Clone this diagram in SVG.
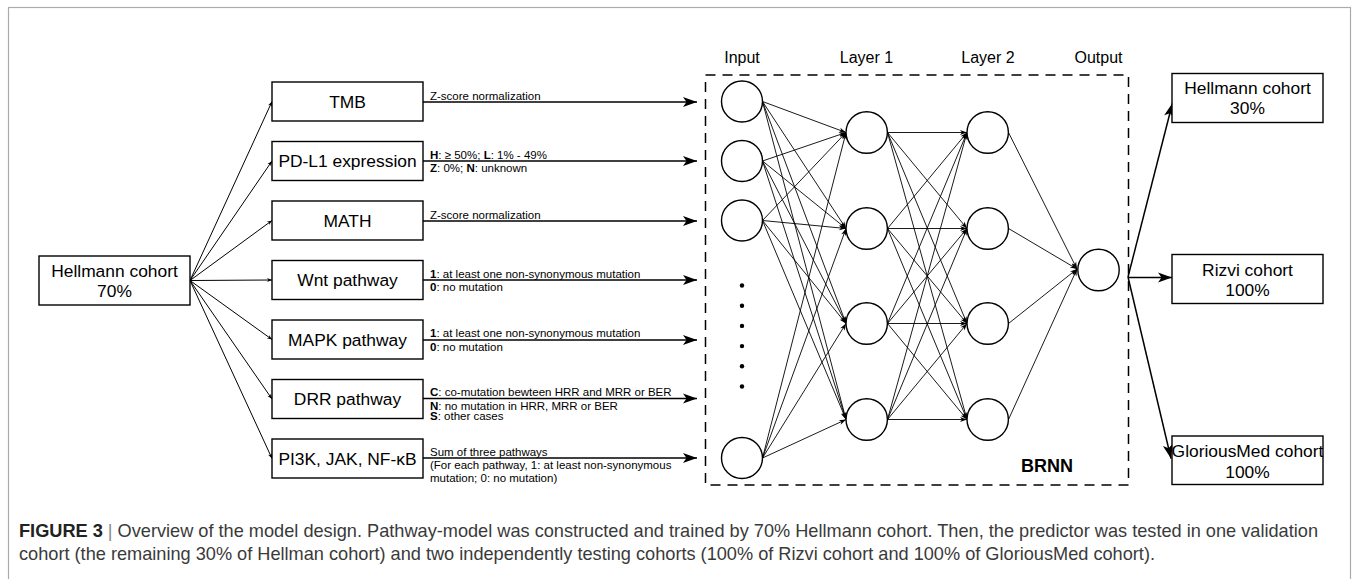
<svg xmlns="http://www.w3.org/2000/svg" width="1356" height="579" viewBox="0 0 1356 579">
<defs>
<style>
.box{fill:#fff;stroke:#000;stroke-width:1.4}
.node{fill:#fff;stroke:#000;stroke-width:1.4}
.bt{font-family:"Liberation Sans",Arial,sans-serif;font-size:17.4px;fill:#000;text-anchor:middle}
.el{font-family:"Liberation Sans",Arial,sans-serif;font-size:11.5px;fill:#000}
.hd{font-family:"Liberation Sans",Arial,sans-serif;font-size:16px;fill:#000;text-anchor:middle}
.in{stroke:#000;stroke-width:1.5;fill:none;marker-end:url(#big)}
.fan{stroke:#000;stroke-width:1;fill:none;marker-end:url(#tiny)}
.nn{stroke:#000;stroke-width:0.9;fill:none;marker-end:url(#small)}
.cap{font-family:"Liberation Sans Narrow","Liberation Sans",Arial,sans-serif;font-size:18.5px;fill:#3a3a3a}
</style>
<marker id="big" markerUnits="userSpaceOnUse" markerWidth="14" markerHeight="10" viewBox="0 0 14 10" refX="14" refY="5" orient="auto" overflow="visible"><path d="M0,0 L14,5 L0,10 L3.5,5 Z" fill="#000"/></marker>
<marker id="small" markerUnits="userSpaceOnUse" markerWidth="7" markerHeight="5" viewBox="0 0 7 5" refX="7" refY="2.5" orient="auto" overflow="visible"><path d="M0,0 L7,2.5 L0,5 L2,2.5 Z" fill="#000"/></marker>
<marker id="tiny" markerUnits="userSpaceOnUse" markerWidth="5" markerHeight="4" viewBox="0 0 5 4" refX="5" refY="2" orient="auto" overflow="visible"><path d="M0,0 L5,2 L0,4 L1.5,2 Z" fill="#000"/></marker>
</defs>
<rect x="0" y="0" width="1356" height="579" fill="#fff"/>
<rect x="8.5" y="7.5" width="1342" height="600" fill="none" stroke="#ababab" stroke-width="1.2"/>

<g id="connectors">
<line class="fan" x1="190" y1="280.5" x2="272" y2="101.5"/>
<line class="fan" x1="190" y1="280.5" x2="272" y2="161"/>
<line class="fan" x1="190" y1="280.5" x2="272" y2="220.5"/>
<line class="fan" x1="190" y1="280.5" x2="272" y2="280"/>
<line class="fan" x1="190" y1="280.5" x2="272" y2="339.5"/>
<line class="fan" x1="190" y1="280.5" x2="272" y2="399"/>
<line class="fan" x1="190" y1="280.5" x2="272" y2="458.5"/>

<line class="in" x1="423" y1="102" x2="697" y2="102"/>
<line class="in" x1="423" y1="161" x2="697" y2="161"/>
<line class="in" x1="423" y1="221" x2="697" y2="221"/>
<line class="in" x1="423" y1="280" x2="697" y2="280"/>
<line class="in" x1="423" y1="340" x2="697" y2="340"/>
<line class="in" x1="423" y1="398.5" x2="697" y2="398.5"/>
<line class="in" x1="423" y1="458" x2="697" y2="458"/>

<line class="nn" x1="762.5" y1="101.5" x2="846" y2="132.5"/>
<line class="nn" x1="762.5" y1="101.5" x2="846" y2="228.5"/>
<line class="nn" x1="762.5" y1="101.5" x2="846" y2="323.5"/>
<line class="nn" x1="762.5" y1="101.5" x2="846" y2="419.5"/>
<line class="nn" x1="762.5" y1="161" x2="846" y2="132.5"/>
<line class="nn" x1="762.5" y1="161" x2="846" y2="228.5"/>
<line class="nn" x1="762.5" y1="161" x2="846" y2="323.5"/>
<line class="nn" x1="762.5" y1="161" x2="846" y2="419.5"/>
<line class="nn" x1="762.5" y1="220.5" x2="846" y2="132.5"/>
<line class="nn" x1="762.5" y1="220.5" x2="846" y2="228.5"/>
<line class="nn" x1="762.5" y1="220.5" x2="846" y2="323.5"/>
<line class="nn" x1="762.5" y1="220.5" x2="846" y2="419.5"/>
<line class="nn" x1="762.5" y1="458" x2="846" y2="132.5"/>
<line class="nn" x1="762.5" y1="458" x2="846" y2="228.5"/>
<line class="nn" x1="762.5" y1="458" x2="846" y2="323.5"/>
<line class="nn" x1="762.5" y1="458" x2="846" y2="419.5"/>

<line class="nn" x1="887.5" y1="132.5" x2="967" y2="132.5"/>
<line class="nn" x1="887.5" y1="132.5" x2="967" y2="228.5"/>
<line class="nn" x1="887.5" y1="132.5" x2="967" y2="323.5"/>
<line class="nn" x1="887.5" y1="132.5" x2="967" y2="419.5"/>
<line class="nn" x1="887.5" y1="228.5" x2="967" y2="132.5"/>
<line class="nn" x1="887.5" y1="228.5" x2="967" y2="228.5"/>
<line class="nn" x1="887.5" y1="228.5" x2="967" y2="323.5"/>
<line class="nn" x1="887.5" y1="228.5" x2="967" y2="419.5"/>
<line class="nn" x1="887.5" y1="323.5" x2="967" y2="132.5"/>
<line class="nn" x1="887.5" y1="323.5" x2="967" y2="228.5"/>
<line class="nn" x1="887.5" y1="323.5" x2="967" y2="323.5"/>
<line class="nn" x1="887.5" y1="323.5" x2="967" y2="419.5"/>
<line class="nn" x1="887.5" y1="419.5" x2="967" y2="132.5"/>
<line class="nn" x1="887.5" y1="419.5" x2="967" y2="228.5"/>
<line class="nn" x1="887.5" y1="419.5" x2="967" y2="323.5"/>
<line class="nn" x1="887.5" y1="419.5" x2="967" y2="419.5"/>

<line class="nn" x1="1008.5" y1="132.5" x2="1077" y2="269"/>
<line class="nn" x1="1008.5" y1="228.5" x2="1077" y2="269"/>
<line class="nn" x1="1008.5" y1="323.5" x2="1077" y2="269"/>
<line class="nn" x1="1008.5" y1="419.5" x2="1077" y2="269"/>

<line class="in" x1="1128" y1="277" x2="1172.5" y2="103"/>
<line class="in" x1="1128" y1="277.5" x2="1172" y2="277.5"/>
<line class="in" x1="1128" y1="277" x2="1171" y2="458.5"/>
</g>

<g id="edge-labels">
<text class="el" x="430" y="99.5">Z-score normalization</text>
<text class="el" x="430" y="158.5"><tspan font-weight="bold">H</tspan>: ≥ 50%; <tspan font-weight="bold">L</tspan>: 1% - 49%</text>
<text class="el" x="430" y="172"><tspan font-weight="bold">Z</tspan>: 0%; <tspan font-weight="bold">N</tspan>: unknown</text>
<text class="el" x="430" y="218.5">Z-score normalization</text>
<text class="el" x="430" y="277.5"><tspan font-weight="bold">1</tspan>: at least one non-synonymous mutation</text>
<text class="el" x="430" y="290.5"><tspan font-weight="bold">0</tspan>: no mutation</text>
<text class="el" x="430" y="337"><tspan font-weight="bold">1</tspan>: at least one non-synonymous mutation</text>
<text class="el" x="430" y="350.5"><tspan font-weight="bold">0</tspan>: no mutation</text>
<text class="el" x="430" y="396"><tspan font-weight="bold">C</tspan>: co-mutation bewteen HRR and MRR or BER</text>
<text class="el" x="430" y="410"><tspan font-weight="bold">N</tspan>: no mutation in HRR, MRR or BER</text>
<text class="el" x="430" y="419.5"><tspan font-weight="bold">S</tspan>: other cases</text>
<text class="el" x="430" y="455.5">Sum of three pathways</text>
<text class="el" x="430" y="468.5">(For each pathway, 1: at least non-synonymous</text>
<text class="el" x="430" y="481.5">mutation; 0: no mutation)</text>
</g>

<g id="hellmann-70">
<rect class="box" x="39" y="256" width="151" height="49"/>
<text class="bt" x="114.5" y="277">Hellmann cohort</text>
<text class="bt" x="114.5" y="297">70%</text>
</g>
<g id="tmb"><rect class="box" x="272" y="82" width="151" height="39"/><text class="bt" x="347.5" y="107.5">TMB</text></g>
<g id="pdl1"><rect class="box" x="272" y="141.5" width="151" height="39"/><text class="bt" x="347.5" y="167">PD-L1 expression</text></g>
<g id="math"><rect class="box" x="272" y="201" width="151" height="39"/><text class="bt" x="347.5" y="226.5">MATH</text></g>
<g id="wnt"><rect class="box" x="272" y="260.5" width="151" height="39"/><text class="bt" x="347.5" y="286">Wnt pathway</text></g>
<g id="mapk"><rect class="box" x="272" y="320" width="151" height="39"/><text class="bt" x="347.5" y="345.5">MAPK pathway</text></g>
<g id="drr"><rect class="box" x="272" y="379.5" width="151" height="39"/><text class="bt" x="347.5" y="405">DRR pathway</text></g>
<g id="pi3k"><rect class="box" x="272" y="439" width="151" height="39"/><text class="bt" x="347.5" y="464.5">PI3K, JAK, NF-κB</text></g>

<g id="brnn">
<rect x="705.5" y="75" width="423" height="410" fill="none" stroke="#000" stroke-width="1.5" stroke-dasharray="10 7"/>
<text x="1073" y="472" font-family="'Liberation Sans',Arial,sans-serif" font-size="18" font-weight="bold" text-anchor="end">BRNN</text>
<text class="hd" x="742" y="63">Input</text>
<text class="hd" x="866.5" y="63">Layer 1</text>
<text class="hd" x="988" y="63">Layer 2</text>
<text class="hd" x="1098.5" y="63">Output</text>
</g>
<g id="input-nodes">
<circle class="node" cx="742" cy="101.5" r="20.5"/>
<circle class="node" cx="742" cy="161" r="20.5"/>
<circle class="node" cx="742" cy="220.5" r="20.5"/>
<circle class="node" cx="742" cy="458" r="20.5"/>
<g fill="#000"><circle cx="742" cy="285.5" r="2.2"/><circle cx="742" cy="305.7" r="2.2"/><circle cx="742" cy="325.9" r="2.2"/><circle cx="742" cy="346.1" r="2.2"/><circle cx="742" cy="366.3" r="2.2"/><circle cx="742" cy="386.5" r="2.2"/></g>
</g>
<g id="layer1-nodes">
<circle class="node" cx="866.7" cy="132.5" r="20.7"/>
<circle class="node" cx="866.7" cy="228.5" r="20.7"/>
<circle class="node" cx="866.7" cy="323.5" r="20.7"/>
<circle class="node" cx="866.7" cy="419.5" r="20.7"/>
</g>
<g id="layer2-nodes">
<circle class="node" cx="987.7" cy="132.5" r="20.7"/>
<circle class="node" cx="987.7" cy="228.5" r="20.7"/>
<circle class="node" cx="987.7" cy="323.5" r="20.7"/>
<circle class="node" cx="987.7" cy="419.5" r="20.7"/>
</g>
<g id="output-node"><circle class="node" cx="1098.5" cy="270" r="20.7"/></g>

<g id="hellmann-30"><rect class="box" x="1172" y="73.5" width="151" height="49"/><text class="bt" x="1247.5" y="94">Hellmann cohort</text><text class="bt" x="1247.5" y="114">30%</text></g>
<g id="rizvi"><rect class="box" x="1172" y="254.5" width="151" height="49"/><text class="bt" x="1247.5" y="275.5">Rizvi cohort</text><text class="bt" x="1247.5" y="295.5">100%</text></g>
<g id="gloriousmed"><rect class="box" x="1172" y="436" width="151" height="48.5"/><text class="bt" x="1247.5" y="457">GloriousMed cohort</text><text class="bt" x="1247.5" y="477.5">100%</text></g>

<g id="caption">
<text class="cap" x="19" y="537" textLength="1299" lengthAdjust="spacingAndGlyphs"><tspan font-weight="bold" fill="#222">FIGURE 3</tspan> <tspan fill="#888">|</tspan> Overview of the model design. Pathway-model was constructed and trained by 70% Hellmann cohort. Then, the predictor was tested in one validation</text>
<text class="cap" x="19" y="560" textLength="1136" lengthAdjust="spacingAndGlyphs">cohort (the remaining 30% of Hellman cohort) and two independently testing cohorts (100% of Rizvi cohort and 100% of GloriousMed cohort).</text>
</g>
</svg>
